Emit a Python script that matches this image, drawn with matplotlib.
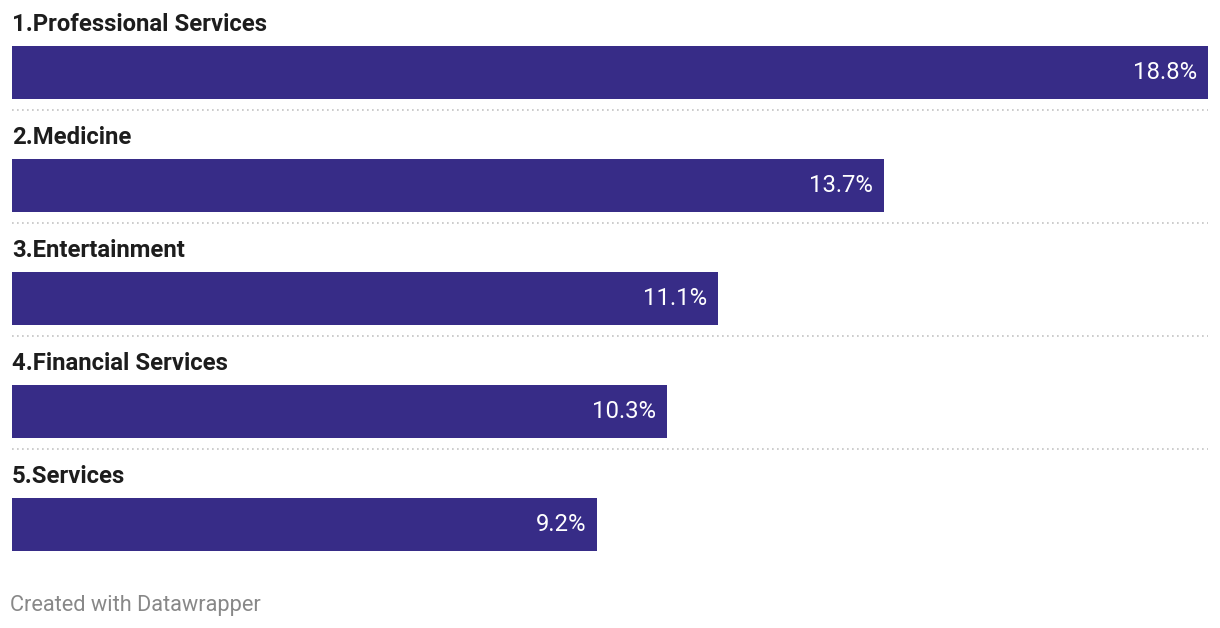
import matplotlib.pyplot as plt

# top five industries
categories = ['1.Professional Services', '2.Medicine', '3.Entertainment',
              '4.Financial Services', '5.Services']
values = [18.8, 13.7, 11.1, 10.3, 9.2]

W, H = 1220, 628
bar_color = '#372c87'
plt.rcParams['font.family'] = ['Roboto', 'DejaVu Sans']

fig = plt.figure(figsize=(W / 100, H / 100), dpi=100)
ax = fig.add_axes([12 / W, 0, 1196 / W, 1])

step = 113.0  # px between rows
ax.set_xlim(0, max(values))
ax.set_ylim((H - 72.5) / step, -72.5 / step)
ax.axis('off')

px = max(values) / 1196  # one pixel in data units
for i, (cat, v) in enumerate(zip(categories, values)):
    ax.barh(i, v, height=53 / step, color=bar_color, edgecolor='none')
    ax.text(0, i - 48 / step, cat, fontsize=17.2, fontweight='bold',
            color='#1d1d1d', va='center', ha='left')
    ax.text(v - 11 * px, i, f'{v}%', fontsize=17.2, color='white',
            va='center', ha='right')
    if i < len(values) - 1:
        ax.plot([0, max(values)], [i + 37.5 / step] * 2, color='#c4c4c4',
                lw=1.2, ls=(0, (1, 2)), solid_capstyle='butt')

fig.text(10 / W, 1 - 605 / H, 'Created with Datawrapper', fontsize=15.7,
         color='#888888', va='center', ha='left')

fig.savefig('out.png', dpi=100, facecolor='white')
